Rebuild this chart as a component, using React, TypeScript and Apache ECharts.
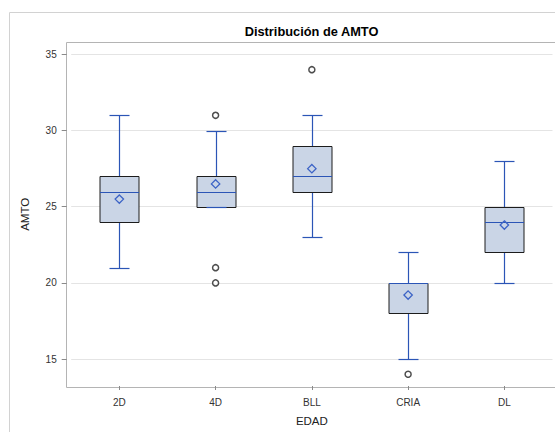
import React, { useEffect, useRef } from "react";
import * as echarts from "echarts";

// Five-number summaries of AMTO per EDAD group
const categories = ["2D", "4D", "BLL", "CRIA", "DL"];
const whiskerLow = [21, 25, 23, 15, 20];
const q1 = [24, 25, 26, 18, 22];
const median = [26, 26, 27, 20, 24];
const q3 = [27, 27, 29, 20, 25];
const whiskerHigh = [31, 30, 31, 22, 28];
const means = [25.5, 26.5, 27.5, 19.2, 23.8];

// Points beyond the whiskers
const outlierGroups = ["4D", "4D", "4D", "BLL", "CRIA"];
const outlierValues = [31, 21, 20, 34, 14];

const yTicks = [15, 20, 25, 30, 35];

const FONT = '"Liberation Sans", Arial, sans-serif';
const BLUE = "#2b55b6";
const MEAN_BLUE = "#3c63c6";
const BOX_FILL = "#cad5e6";
const BOX_EDGE = "#1c1c1c";

function renderBox(params: any, api: any) {
  const i = api.value(0);
  const pLow = api.coord([i, api.value(1)]);
  const pQ1 = api.coord([i, api.value(2)]);
  const pMed = api.coord([i, api.value(3)]);
  const pQ3 = api.coord([i, api.value(4)]);
  const pHigh = api.coord([i, api.value(5)]);
  const pMean = api.coord([i, api.value(6)]);
  const band = api.size([1, 0])[0];
  const boxW = Math.round(band * 0.4);
  const capW = Math.round(boxW / 2);
  const cx = Math.round(pLow[0]) + 0.5;
  const snap = (v: number) => Math.round(v) + 0.5;
  const yLow = snap(pLow[1]);
  const yQ1 = snap(pQ1[1]);
  const yMed = snap(pMed[1]);
  const yQ3 = snap(pQ3[1]);
  const yHigh = snap(pHigh[1]);
  const left = cx - boxW / 2;
  const lineStyle = { stroke: BLUE, lineWidth: 1.2 };
  const d = 4.2;
  const mx = pMean[0];
  const my = pMean[1];
  return {
    type: "group",
    children: [
      { type: "line", shape: { x1: cx, y1: yQ1, x2: cx, y2: yLow }, style: lineStyle },
      { type: "line", shape: { x1: cx, y1: yQ3, x2: cx, y2: yHigh }, style: lineStyle },
      {
        type: "rect",
        shape: { x: left, y: yQ3, width: boxW, height: yQ1 - yQ3 },
        style: { fill: BOX_FILL, stroke: BOX_EDGE, lineWidth: 1 },
      },
      { type: "line", shape: { x1: left, y1: yMed, x2: left + boxW, y2: yMed }, style: lineStyle },
      { type: "line", shape: { x1: cx - capW / 2, y1: yLow, x2: cx + capW / 2, y2: yLow }, style: lineStyle },
      { type: "line", shape: { x1: cx - capW / 2, y1: yHigh, x2: cx + capW / 2, y2: yHigh }, style: lineStyle },
      {
        type: "polygon",
        shape: { points: [[mx, my - d], [mx + d, my], [mx, my + d], [mx - d, my]] },
        style: { fill: "none", stroke: MEAN_BLUE, lineWidth: 1.3 },
      },
    ],
  };
}

export default function App() {
  const ref = useRef<HTMLDivElement>(null);

  useEffect(() => {
    if (!ref.current) return;
    const chart = echarts.init(ref.current, null, { renderer: "svg" });

    const boxData = categories.map((_, i) => [
      i,
      whiskerLow[i],
      q1[i],
      median[i],
      q3[i],
      whiskerHigh[i],
      means[i],
    ]);
    const outlierData = outlierGroups.map((g, i) => [g, outlierValues[i]]);

    chart.setOption({
      animation: false,
      backgroundColor: "#ffffff",
      graphic: [
        {
          type: "rect",
          silent: true,
          z: -10,
          shape: { x: 9.5, y: 12.5, width: 700, height: 600 },
          style: { fill: "none", stroke: "#d2d2d2", lineWidth: 1 },
        },
        {
          type: "rect",
          silent: true,
          z: -5,
          shape: { x: 66.5, y: 42.5, width: 520, height: 345 },
          style: { fill: "none", stroke: "#b4b4b4", lineWidth: 1 },
        },
        {
          type: "text",
          silent: true,
          x: 311.5,
          y: 31,
          style: {
            text: "Distribución de AMTO",
            textAlign: "center",
            textVerticalAlign: "middle",
            font: `bold 12.8px ${FONT}`,
            fill: "#000000",
          },
        },
      ],
      grid: { left: 71.2, right: 2.5, top: 42.7, bottom: 44.7 },
      xAxis: {
        type: "category",
        data: categories,
        boundaryGap: true,
        axisLine: { show: false },
        axisTick: { show: true, alignWithLabel: true, length: 4, lineStyle: { color: "#8a8a8a" } },
        axisLabel: { margin: 11, fontSize: 10, color: "#333333", fontFamily: FONT },
        splitLine: { show: false },
        name: "EDAD",
        nameLocation: "middle",
        nameGap: 29,
        nameTextStyle: { fontSize: 11.5, color: "#222222", fontFamily: FONT },
      },
      yAxis: {
        type: "value",
        min: 13.23,
        max: 35.77,
        offset: 4.5,
        axisLine: { show: false },
        axisTick: {
          show: true,
          length: 5,
          customValues: yTicks,
          lineStyle: { color: "#8a8a8a" },
        },
        axisLabel: {
          margin: 10,
          fontSize: 10,
          color: "#333333",
          fontFamily: FONT,
          customValues: yTicks,
        },
        splitLine: { show: true, lineStyle: { color: "#e4e4e4", width: 1 } },
        name: "AMTO",
        nameLocation: "middle",
        nameRotate: 90,
        nameGap: 36,
        nameTextStyle: { fontSize: 11.5, color: "#222222", fontFamily: FONT },
      },
      series: [
        {
          type: "custom",
          renderItem: renderBox,
          encode: { x: 0, y: [1, 2, 3, 4, 5, 6] },
          data: boxData,
          z: 3,
        },
        {
          type: "scatter",
          data: outlierData,
          symbol: "circle",
          symbolSize: 6,
          itemStyle: { color: "#ffffff", borderColor: "#222222", borderWidth: 1.5 },
          z: 4,
        },
      ],
    });

    return () => chart.dispose();
  }, []);

  return (
    <div
      ref={ref}
      style={{ position: "fixed", left: 0, top: 0, width: 555, height: 432, background: "#fff" }}
    />
  );
}
